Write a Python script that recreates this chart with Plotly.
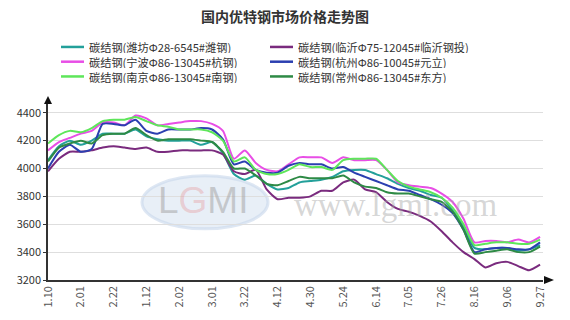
import plotly.graph_objects as go

tick_labels = ["1.10", "2.01", "2.22", "1.12", "2.02", "3.01", "3.22", "4.12",
               "4.30", "5.24", "6.14", "7.05", "7.26", "8.16", "9.06", "9.27"]
n_points = 46
x_idx = list(range(n_points))

names = ["碳结钢(潍坊Φ28-6545#潍钢)", "碳结钢(临沂Φ75-12045#临沂钢投)",
         "碳结钢(宁波Φ86-13045#杭钢)", "碳结钢(杭州Φ86-10045#元立)",
         "碳结钢(南京Φ86-13045#南钢)", "碳结钢(常州Φ86-13045#东方)"]

weifang = [4060, 4160, 4200, 4170, 4200, 4250, 4250, 4250, 4280, 4230, 4210, 4200, 4200, 4200, 4170, 4190,
           4110, 3960, 3920, 3950, 3890, 3850, 3860, 3900, 3910, 3920, 3940, 3980, 3990, 3990, 3960, 3930,
           3890, 3860, 3840, 3810, 3790, 3700, 3580, 3430, 3420, 3430, 3430, 3410, 3420, 3450]
linyi = [3980, 4070, 4120, 4120, 4130, 4150, 4160, 4150, 4140, 4150, 4120, 4120, 4130, 4130, 4130, 4130,
         4100, 3980, 3960, 3990, 3850, 3780, 3790, 3790, 3800, 3840, 3840, 3900, 3920, 3850, 3830, 3760,
         3710, 3690, 3660, 3620, 3550, 3470, 3400, 3350, 3290, 3320, 3330, 3300, 3270, 3310]
ningbo = [4130, 4190, 4220, 4250, 4270, 4330, 4330, 4310, 4380, 4360, 4310, 4320, 4330, 4340, 4340, 4320,
          4270, 4070, 4130, 4040, 3990, 3980, 4030, 4080, 4080, 4080, 4040, 4080, 4060, 4060, 4060, 3990,
          3900, 3880, 3870, 3860, 3820, 3760, 3640, 3470, 3480, 3480, 3470, 3490, 3470, 3510]
hangzhou = [4000, 4120, 4170, 4120, 4140, 4320, 4320, 4310, 4350, 4270, 4250, 4280, 4280, 4280, 4290, 4280,
            4210, 4030, 4050, 3990, 3970, 3970, 4020, 4040, 4030, 4030, 4000, 4010, 3970, 3940, 3910, 3880,
            3850, 3840, 3810, 3780, 3740, 3680, 3560, 3400, 3420, 3430, 3430, 3420, 3420, 3470]
nanjing = [4180, 4240, 4270, 4260, 4290, 4340, 4350, 4350, 4370, 4340, 4310, 4300, 4280, 4280, 4280, 4260,
           4200, 4050, 4080, 3990, 3960, 3960, 3990, 4030, 4010, 4010, 3990, 4060, 4070, 4070, 4070, 3990,
           3910, 3870, 3850, 3830, 3790, 3720, 3600, 3450, 3460, 3470, 3470, 3460, 3460, 3490]
changzhou = [4050, 4150, 4180, 4200, 4180, 4240, 4250, 4250, 4290, 4240, 4200, 4210, 4210, 4210, 4200, 4190,
             4120, 4000, 4000, 3950, 3890, 3880, 3910, 3940, 3930, 3930, 3930, 3950, 3900, 3870, 3860, 3830,
             3820, 3820, 3800, 3780, 3760, 3690, 3560, 3390, 3400, 3410, 3420, 3400, 3400, 3440]

series = [weifang, linyi, ningbo, hangzhou, nanjing, changzhou]
colors = ["#23a09a", "#7a2b7e", "#e84ee6", "#2b3fb0", "#5ee65a", "#2e8a45"]

font_family = "Noto Sans CJK SC, Noto Sans, sans-serif"

# plot-area geometry (pixels) used to place legend / watermark in paper coords
L, R, T, B = 48, 27, 103, 37
W, H = 570, 320
PW, PH = W - L - R, H - T - B


def px(x):
    return (x - L) / PW


def py(y):
    return (H - B - y) / PH


fig = go.Figure()
for name, vals, col in zip(names, series, colors):
    fig.add_trace(go.Scatter(x=x_idx, y=vals, name=name, mode="lines", showlegend=False,
                             line=dict(color=col, width=2, shape="spline", smoothing=0.6)))

tick_pos = x_idx[::3]

fig.update_layout(
    width=W, height=H,
    margin=dict(l=L, r=R, t=T, b=B),
    paper_bgcolor="white", plot_bgcolor="white",
    font=dict(family=font_family, color="#333333", size=11),
    title=dict(text="<b>国内优特钢市场价格走势图</b>", x=0.5, xanchor="center",
               y=0.948, yanchor="middle", font=dict(size=14, color="#333333")),
    showlegend=False,
    xaxis=dict(range=[0, 45.27], tickmode="array", tickvals=tick_pos, ticktext=tick_labels,
               tickangle=-90, showgrid=False, zeroline=False, showline=True,
               linecolor="#333333", linewidth=1.5, ticks="", fixedrange=True,
               tickfont=dict(size=11, color="#555555")),
    yaxis=dict(range=[3200, 4470], tickmode="array", tickvals=[3200, 3400, 3600, 3800, 4000, 4200, 4400],
               showgrid=True, gridcolor="#dedede", gridwidth=1, zeroline=False,
               showline=True, linecolor="#333333", linewidth=1.5,
               ticks="outside", ticklen=3, tickcolor="#333333", fixedrange=True,
               tickfont=dict(size=11, color="#333333")),
)

# custom compact legend: two columns, three rows
col_x = [61, 270]
row_y = [46, 61, 76]
for k, (name, col) in enumerate(zip(names, colors)):
    cx = col_x[k % 2]
    ry = row_y[k // 2]
    fig.add_shape(type="line", xref="paper", yref="paper",
                  x0=px(cx), x1=px(cx + 23), y0=py(ry), y1=py(ry),
                  line=dict(color=col, width=2.5))
    fig.add_annotation(xref="paper", yref="paper", x=px(cx + 27), y=py(ry),
                       xanchor="left", yanchor="middle", text=name, showarrow=False,
                       height=13, valign="middle", borderpad=0,
                       font=dict(size=11.2, color="#333333"))

# axis arrows
fig.add_shape(type="path", xref="paper", yref="paper", xsizemode="pixel", ysizemode="pixel",
              xanchor=0, yanchor=1, path="M -4 -1 L 4 -1 L 0 7 Z",
              fillcolor="#111111", line=dict(width=0), layer="above")
fig.add_shape(type="path", xref="paper", yref="paper", xsizemode="pixel", ysizemode="pixel",
              xanchor=1, yanchor=0, path="M 1 -4 L 1 4 L 11 0 Z",
              fillcolor="#111111", line=dict(width=0), layer="above")

# watermark
fig.add_shape(type="circle", xref="paper", yref="paper",
              x0=px(142), x1=px(268), y0=py(231), y1=py(177),
              fillcolor="rgba(190,210,232,0.35)", line=dict(color="rgba(200,215,235,0.6)", width=3),
              layer="below")
fig.add_annotation(xref="paper", yref="paper", x=px(203), y=py(202), xanchor="center", yanchor="middle",
                   text="L<span style='color:rgba(230,110,110,0.55)'>G</span>MI", showarrow=False,
                   font=dict(size=37, color="rgba(160,160,160,0.5)", family="Liberation Sans"))
fig.add_annotation(xref="paper", yref="paper", x=px(396), y=py(207), xanchor="center", yanchor="middle",
                   text="www.lgmi.com", showarrow=False,
                   font=dict(size=33, color="rgba(165,165,165,0.45)", family="Liberation Serif"))

fig.write_html("out.html")
